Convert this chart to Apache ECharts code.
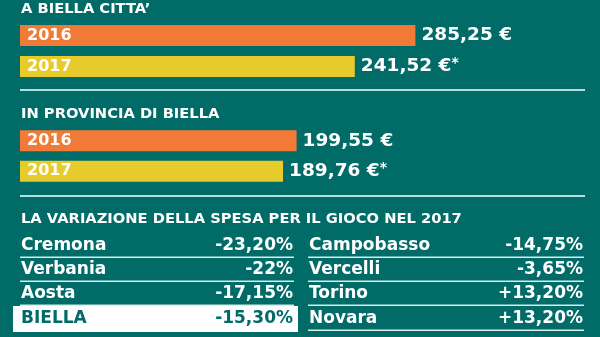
<!DOCTYPE html>
<html><head><meta charset="utf-8">
<script src="https://cdn.jsdelivr.net/npm/echarts@6/dist/echarts.min.js"></script>
<style>html,body{margin:0;padding:0;background:#016b68}#c{width:600px;height:337px}</style>
</head><body><div id="c"></div>
<script>
const sectionTitles = ['A BIELLA CITTA\u2019', 'IN PROVINCIA DI BIELLA'];
const years = ['2016', '2017'];
const cityValues = [285.25, 241.52];
const provinceValues = [199.55, 189.76];
const valueNotes = ['', '*'];
const tableTitle = 'LA VARIAZIONE DELLA SPESA PER IL GIOCO NEL 2017';
const leftCities = ['Cremona', 'Verbania', 'Aosta', 'BIELLA'];
const leftChanges = ['-23,20%', '-22%', '-17,15%', '-15,30%'];
const rightCities = ['Campobasso', 'Vercelli', 'Torino', 'Novara'];
const rightChanges = ['-14,75%', '-3,65%', '+13,20%', '+13,20%'];
const highlightCity = 'BIELLA';

const BG = '#016b68', ORANGE = '#f07a36', YELLOW = '#e7cb2c', LINE = '#b3e0dc';
const FONT = 'DejaVu Sans';
const chart = echarts.init(document.getElementById('c'), null, {renderer: 'canvas'});

function fmt(v, i) {
  const t = '{a|' + v.toFixed(2).replace('.', ',') + ' \u20ac}';
  return valueNotes[i] ? t + '{s|' + valueNotes[i] + '}' : t;
}
const XMAX = 404;
const grids = [
  {left: 20, right: 20, top: 20, height: 62},
  {left: 20, right: 20, top: 125.5, height: 61}
];
function makeSeries(values, gi) {
  return {
    type: 'bar', xAxisIndex: gi, yAxisIndex: gi, barWidth: 21,
    data: values.map((v, i) => ({value: v, itemStyle: {color: i === 0 ? ORANGE : YELLOW}})),
    label: {show: true, position: 'right', distance: 6, color: '#fff',
      fontFamily: FONT, fontWeight: 'bold', fontSize: 18.5,
      rich: {a: {color: '#fff', fontFamily: FONT, fontWeight: 'bold', fontSize: 18.5},
             s: {color: '#fff', fontFamily: FONT, fontWeight: 'bold', fontSize: 14, padding: [0, 0, 6, 0]}},
      formatter: p => fmt(p.value, p.dataIndex)},
    animation: false
  };
}
const graphic = [];
const titleY = [9, 114];
sectionTitles.forEach((t, i) => graphic.push({type: 'text', x: 21, y: titleY[i],
  style: {text: t, fill: '#fff', font: 'bold 14.7px "' + FONT + '"', textVerticalAlign: 'middle', verticalAlign: 'middle'}}));
[90, 196].forEach(y => graphic.push({type: 'rect', shape: {x: 20, y: y - 1, width: 565, height: 2}, style: {fill: LINE}}));
graphic.push({type: 'text', x: 21, y: 219,
  style: {text: tableTitle, fill: '#fff', font: 'bold 14.7px "' + FONT + '"', textVerticalAlign: 'middle', verticalAlign: 'middle'}});
const rowY = [246, 270, 294, 319];
function tableCol(names, vals, x0, x1) {
  names.forEach((n, i) => {
    const hi = n === highlightCity;
    const y = rowY[i];
    if (hi) {
      graphic.push({type: 'rect', shape: {x: x0 - 8, y: y - 13, width: x1 - x0 + 13, height: 26}, style: {fill: '#fff'}});
    } else {
      graphic.push({type: 'rect', shape: {x: x0 - 1, y: y + 10.5, width: x1 - x0 + 2, height: 1.5}, style: {fill: '#d6eeec'}});
    }
    const col = hi ? BG : '#fff';
    graphic.push({type: 'text', x: x0, y: y, style: {text: n, fill: col, font: 'bold 17px "' + FONT + '"', textVerticalAlign: 'middle', verticalAlign: 'middle'}});
    graphic.push({type: 'text', x: x1, y: y, style: {text: vals[i], fill: col, font: 'bold 17px "' + FONT + '"', textAlign: 'right', align: 'right', textVerticalAlign: 'middle', verticalAlign: 'middle'}});
  });
}
tableCol(leftCities, leftChanges, 21, 293);
tableCol(rightCities, rightChanges, 309, 583);

chart.setOption({
  backgroundColor: BG,
  animation: false,
  grid: grids,
  xAxis: grids.map((g, i) => ({type: 'value', gridIndex: i, min: 0, max: XMAX, show: false})),
  yAxis: grids.map((g, i) => ({type: 'category', gridIndex: i, data: years, inverse: true, z: 10,
    axisLine: {show: false}, axisTick: {show: false}, splitLine: {show: false},
    axisLabel: {inside: true, margin: 7, color: '#fff', fontFamily: FONT, fontWeight: 'bold', fontSize: 16}})),
  series: [makeSeries(cityValues, 0), makeSeries(provinceValues, 1)],
  graphic: graphic
});
</script></body></html>
